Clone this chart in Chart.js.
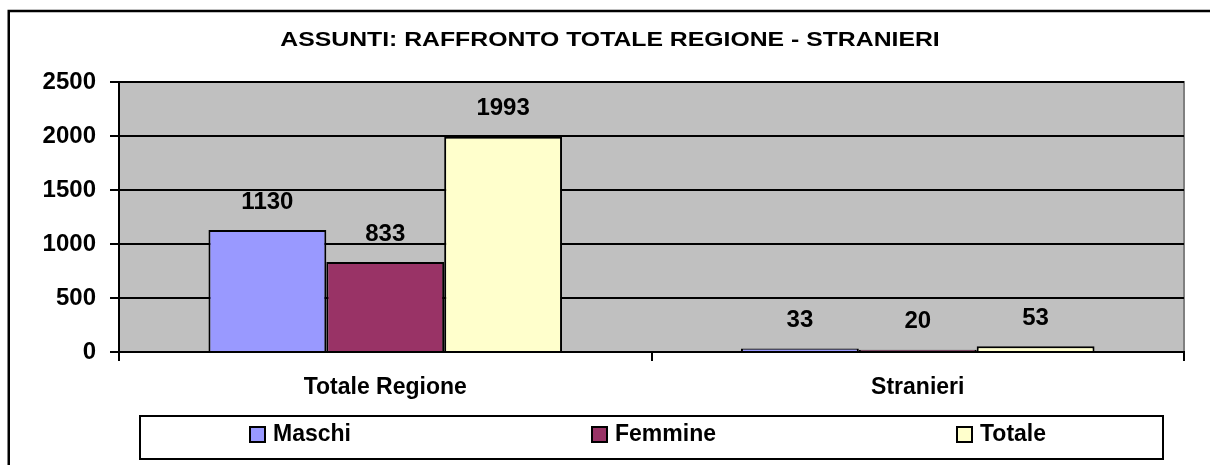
<!DOCTYPE html>
<html>
<head>
<meta charset="utf-8">
<script src="https://cdn.jsdelivr.net/npm/chart.js@4.4.1/dist/chart.umd.min.js"></script>
<style>
  html, body { margin: 0; padding: 0; background: #fff; }
  #wrap { width: 1210px; height: 465px; }
</style>
</head>
<body>
<div id="wrap"><canvas id="assunti" width="1210" height="465"></canvas></div>
<script>
const categories = ['Totale Regione', 'Stranieri'];
const maschi = [1130, 33];
const femmine = [833, 20];
const totale = [1993, 53];
const yTicks = [0, 500, 1000, 1500, 2000, 2500];
const chartTitle = 'ASSUNTI: RAFFRONTO TOTALE REGIONE - STRANIERI';

const FONT = 'Arial, "Liberation Sans", sans-serif';
Chart.defaults.font.family = FONT;
Chart.defaults.color = '#000';

// grey plot background + outer frame of the whole picture
const plotBg = {
  id: 'plotBg',
  beforeDraw(chart) {
    const { ctx, chartArea: a } = chart;
    ctx.save();
    ctx.fillStyle = '#fff';
    ctx.fillRect(0, 0, chart.width, chart.height);
    ctx.strokeStyle = '#000';
    ctx.lineWidth = 2.5;
    ctx.strokeRect(8.75, 11, 1400, 800);
    ctx.fillStyle = '#C0C0C0';
    ctx.fillRect(a.left, a.top, a.right - a.left, a.bottom - a.top);
    ctx.strokeStyle = '#808080';
    ctx.lineWidth = 2;
    ctx.beginPath();
    ctx.moveTo(a.left, a.top);
    ctx.lineTo(a.right, a.top);
    ctx.lineTo(a.right, a.bottom);
    ctx.stroke();
    ctx.restore();
  }
};

// title, value labels and the boxed legend
const extras = {
  id: 'extras',
  afterDraw(chart) {
    const ctx = chart.ctx;
    ctx.save();
    // title (the original text is drawn a bit wide)
    ctx.translate(610, 40);
    ctx.scale(1.18, 1);
    ctx.font = 'bold 21px ' + FONT;
    ctx.fillStyle = '#000';
    ctx.textAlign = 'center';
    ctx.textBaseline = 'middle';
    ctx.fillText(chartTitle, 0, 0);
    ctx.restore();

    ctx.save();
    ctx.font = 'bold 24px ' + FONT;
    ctx.fillStyle = '#000';
    ctx.textAlign = 'center';
    ctx.textBaseline = 'middle';
    chart.data.datasets.forEach((ds, i) => {
      chart.getDatasetMeta(i).data.forEach((bar, j) => {
        ctx.fillText(String(ds.data[j]), bar.x, bar.y - 28);
      });
    });

    // legend box
    ctx.strokeStyle = '#000';
    ctx.lineWidth = 2;
    ctx.strokeRect(140, 416, 1023, 43);
    const markX = [250, 592, 957];
    ctx.font = 'bold 23px ' + FONT;
    ctx.textAlign = 'left';
    chart.data.datasets.forEach((ds, i) => {
      ctx.fillStyle = ds.backgroundColor;
      ctx.fillRect(markX[i], 427, 15, 15);
      ctx.strokeRect(markX[i], 427, 15, 15);
      ctx.fillStyle = '#000';
      ctx.fillText(ds.label, markX[i] + 23, 435);
    });
    ctx.restore();
  }
};

const barStyle = { borderColor: '#000', borderWidth: 2, barPercentage: 1, categoryPercentage: 0.664 };

new Chart(document.getElementById('assunti').getContext('2d'), {
  type: 'bar',
  data: {
    labels: categories,
    datasets: [
      Object.assign({ label: 'Maschi', data: maschi, backgroundColor: '#9999FF' }, barStyle),
      Object.assign({ label: 'Femmine', data: femmine, backgroundColor: '#993366' }, barStyle),
      Object.assign({ label: 'Totale', data: totale, backgroundColor: '#FFFFCC' }, barStyle)
    ]
  },
  options: {
    responsive: false,
    animation: false,
    layout: { padding: { top: 82, right: 26, bottom: 0, left: 0 } },
    plugins: {
      legend: { display: false },
      title: { display: false },
      tooltip: { enabled: false }
    },
    scales: {
      x: {
        afterFit: s => { s.height = 113; },
        grid: { drawOnChartArea: false, color: '#000', lineWidth: 2, tickLength: 9, offset: true },
        border: { color: '#000', width: 2 },
        ticks: { font: { size: 23, weight: 'bold' }, padding: 13, color: '#000' }
      },
      y: {
        min: 0,
        max: 2500,
        afterFit: s => { s.width = 119; },
        afterBuildTicks: s => { s.ticks = yTicks.map(v => ({ value: v })); },
        grid: { color: '#000', lineWidth: 2, tickLength: 9 },
        border: { color: '#000', width: 2 },
        ticks: { font: { size: 24, weight: 'bold' }, padding: 14, color: '#000', callback: v => String(v) }
      }
    }
  },
  plugins: [plotBg, extras]
});
</script>
</body>
</html>
